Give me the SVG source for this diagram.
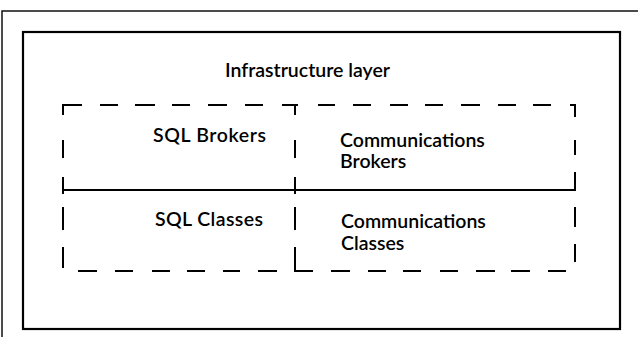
<svg xmlns="http://www.w3.org/2000/svg" width="638" height="337" viewBox="0 0 638 337">
<style>
.frame{fill:none;stroke:#111;stroke-width:1.5}
.box{fill:none;stroke:#000;stroke-width:2.2}
.dash{fill:none;stroke:#000;stroke-width:2;stroke-linecap:butt}
.t{font-family:Lato,"Liberation Sans",sans-serif;font-weight:600;font-size:19.5px;fill:#000}
</style>
<rect width="638" height="337" fill="#fff"/>
<g id="page-frame">
<path class="frame" d="M2 337V11H638"/>
</g>
<g id="infrastructure-layer">
<rect class="box" x="23" y="32" width="597" height="297"/>
<text class="t" x="225" y="77">Infrastructure layer</text>
</g>
<g id="connectors">
<path class="dash" d="M63 105H82M100 105H118M135 105H155M172 105H190M208 105H227M245 105H263M282 105H298M318 105H335M353 105H371M390 105H408M425 105H443M461 105H480M498 105H516M533 105H551M570 105H576"/>
<path class="dash" d="M63 104V115M63 140V158M63 177V194M63 207V230M63 247V268"/>
<path class="dash" d="M295 104V115M295 140V158M295 177V194M295 207V230M295 247V272"/>
<path class="dash" d="M575 104V117M575 140V155M575 172V191M575 207V227M575 244V262"/>
<path class="dash" d="M63 190H576"/>
<path class="dash" d="M78 271H97M115 271H133M152 271H170M187 271H205M223 271H240M258 271H277M294 271H313M331 271H350M368 271H386M403 271H421M440 271H458M476 271H495M511 271H530M548 271H566"/>
</g>
<g id="sql-brokers">
<text class="t" x="153" y="142" textLength="113">SQL Brokers</text>
</g>
<g id="communications-brokers">
<text class="t" x="340" y="147">Communications</text>
<text class="t" x="340" y="168">Brokers</text>
</g>
<g id="sql-classes">
<text class="t" x="155" y="226" textLength="108">SQL Classes</text>
</g>
<g id="communications-classes">
<text class="t" x="341" y="228">Communications</text>
<text class="t" x="341" y="250">Classes</text>
</g>
</svg>
